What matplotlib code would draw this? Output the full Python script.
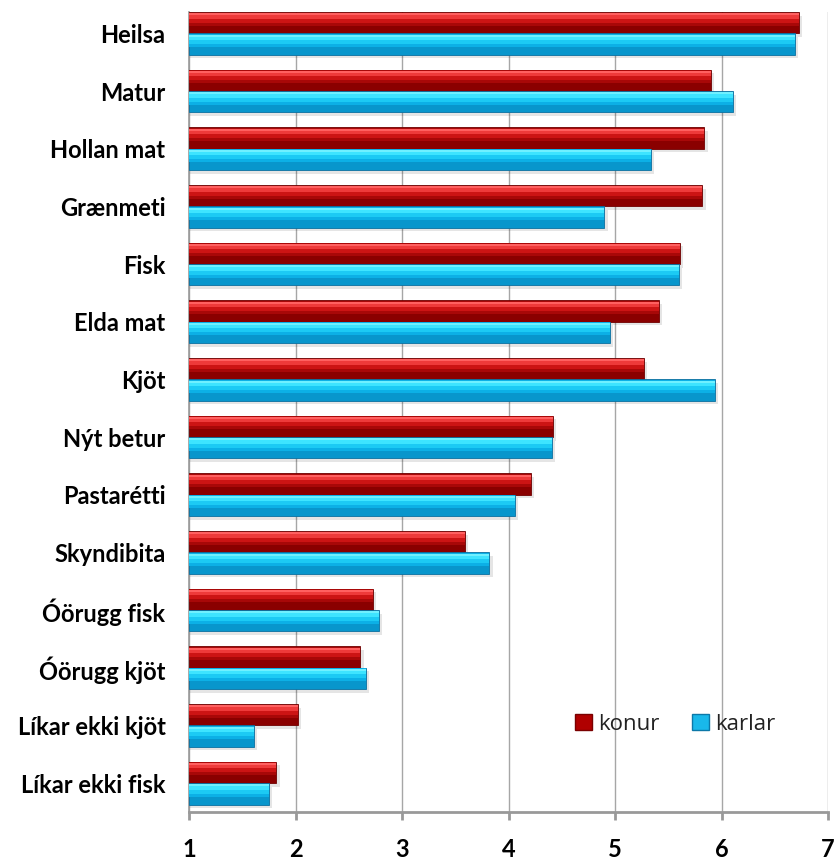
import matplotlib
matplotlib.use("Agg")
import matplotlib.pyplot as plt
from matplotlib.patches import Patch
import numpy as np

categories = ["Heilsa", "Matur", "Hollan mat", "Grænmeti", "Fisk", "Elda mat", "Kjöt",
              "Nýt betur", "Pastarétti", "Skyndibita", "Óörugg fisk", "Óörugg kjöt",
              "Líkar ekki kjöt", "Líkar ekki fisk"]
konur = [6.73, 5.90, 5.84, 5.82, 5.61, 5.41, 5.27, 4.42, 4.21, 3.59, 2.73, 2.61, 2.02, 1.82]
karlar = [6.69, 6.11, 5.34, 4.90, 5.60, 4.95, 5.94, 4.41, 4.06, 3.82, 2.78, 2.66, 1.61, 1.75]
xticks = [1, 2, 3, 4, 5, 6, 7]
series_names = ["konur", "karlar"]

W, H = 835, 860
fig = plt.figure(figsize=(W / 100, H / 100), dpi=100)
ax = fig.add_axes([189 / W, (H - 812) / H, (828 - 189) / W, 800 / H])

y = np.arange(len(categories))
bh = 0.37
base = 1.0

def bevel_bar(yc, vals, layers, edge):
    widths = np.array(vals) - base
    # soft shadow
    ax.barh(yc + 0.06, widths + 0.03, height=bh, left=base, color="#000000", alpha=0.10,
            zorder=2, linewidth=0)
    ax.barh(yc, widths, height=bh, left=base, color=layers[0], zorder=3, linewidth=0.6,
            edgecolor=edge)
    for k, (off, frac, col) in enumerate(layers[1:]):
        ax.barh(yc + off * bh, widths, height=bh * frac, left=base, color=col,
                zorder=4 + k, linewidth=0)

red_layers = ["#8a0000", (-0.17, 0.62, "#a80808"), (-0.22, 0.42, "#cc1414"),
              (-0.30, 0.20, "#ee3a3a"), (-0.40, 0.10, "#ff6060")]
cyan_layers = ["#0896cc", (-0.17, 0.62, "#0cb0e6"), (-0.22, 0.42, "#1ccaf4"),
               (-0.30, 0.20, "#3ee4ff"), (-0.40, 0.10, "#70f0ff")]

bevel_bar(y - bh / 2, konur, red_layers, "#700000")
bevel_bar(y + bh / 2, karlar, cyan_layers, "#0a70a0")

ax.set_xlim(1, 7)
ax.set_ylim(13.5, -0.372)
ax.set_xticks(xticks)
ax.set_xticklabels([str(t) for t in xticks], fontsize=17, fontweight="bold", family="Lato")
ax.set_yticks(y)
ax.set_yticklabels(categories, fontsize=17, fontweight="bold", family="Lato")
ax.tick_params(axis="y", length=0, pad=17)
ax.tick_params(axis="x", length=6, width=2, color="#999999", pad=13, direction="out")
ax.xaxis.grid(True, color="#a6a6a6", linewidth=1.0, zorder=0)
ax.set_axisbelow(True)
for s in ["top", "right"]:
    ax.spines[s].set_visible(False)
ax.spines["left"].set_color("#999999")
ax.spines["left"].set_linewidth(1.2)
ax.spines["bottom"].set_color("#999999")
ax.spines["bottom"].set_linewidth(2)

handles = [Patch(facecolor="#b00000", edgecolor="#7a0000", label=series_names[0]),
           Patch(facecolor="#19b8ea", edgecolor="#0c78a8", label=series_names[1])]
leg = fig.legend(handles=handles, loc="center left", bbox_to_anchor=(555 / W, (H - 724) / H),
                 ncol=2, frameon=False, prop={"family": "Open Sans", "size": 16},
                 handlelength=0.75, handleheight=0.75, handletextpad=0.3, columnspacing=1.45)
for t in leg.get_texts():
    t.set_color("#222222")

fig.savefig("out.png", dpi=100)
